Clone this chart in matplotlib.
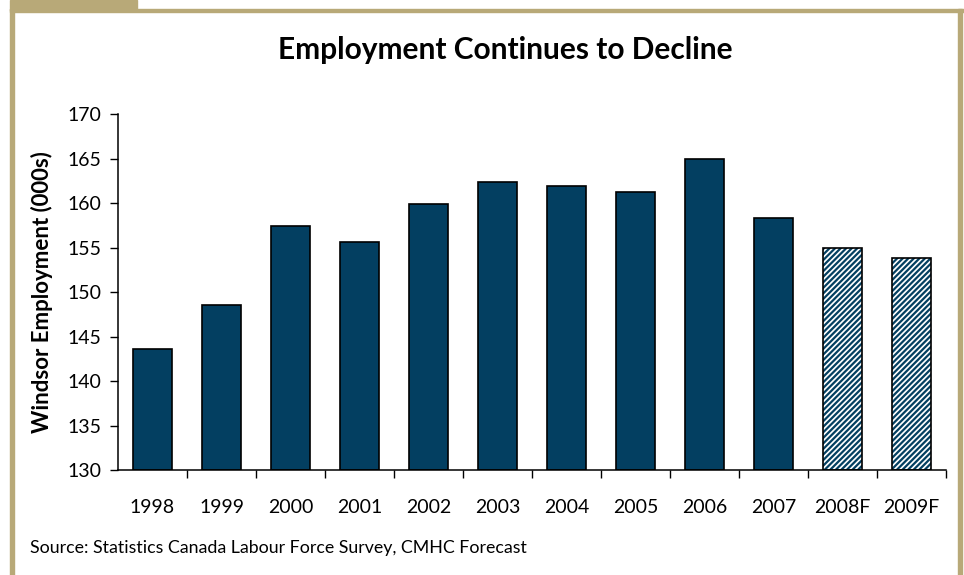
import matplotlib.pyplot as plt
from matplotlib.patches import Rectangle

years = ['1998', '1999', '2000', '2001', '2002', '2003', '2004',
         '2005', '2006', '2007', '2008F', '2009F']
employment = [143.6, 148.6, 157.4, 155.7, 159.9, 162.4, 161.9,
              161.3, 165.0, 158.4, 155.0, 153.9]
forecast = [False] * 10 + [True, True]

navy = '#033F61'
tan = '#B8A978'
W, H = 964, 575

plt.rcParams['font.family'] = ['Lato', 'DejaVu Sans']
plt.rcParams['hatch.linewidth'] = 1.6

fig = plt.figure(figsize=(W / 100, H / 100), dpi=100)

# khaki frame round the chart
def px_rect(x0, y0, x1, y1):
    fig.patches.append(Rectangle((x0 / W, 1 - y1 / H), (x1 - x0) / W, (y1 - y0) / H,
                                 transform=fig.transFigure, color=tan, zorder=0))

px_rect(10, 0, 137, 10)
px_rect(10, 9, 964, 12)
px_rect(10, 9, 14, 575)
px_rect(958, 9, 962, 575)

ax = fig.add_axes([118 / W, 1 - 470 / H, (946 - 118) / W, (470 - 114.5) / H])

x = range(len(years))
for i, (v, f) in enumerate(zip(employment, forecast)):
    if f:
        ax.bar(i, v - 130, bottom=130, width=0.56, color='white', edgecolor=navy,
               hatch='//////', linewidth=0, zorder=2)
        ax.bar(i, v - 130, bottom=130, width=0.56, fill=False, edgecolor='black',
               linewidth=1.2, zorder=3)
    else:
        ax.bar(i, v - 130, bottom=130, width=0.56, color=navy, edgecolor='black',
               linewidth=1.2, zorder=2)

ax.set_ylim(130, 170)
ax.set_yticks(range(130, 171, 5))
ax.set_xlim(-0.5, len(years) - 0.5)
ax.set_xticks(list(x))
ax.set_xticklabels(years)
ax.set_xticks([i - 0.5 for i in range(1, len(years) + 1)], minor=True)
ax.tick_params(axis='x', which='major', length=0, pad=21, labelsize=14)
ax.tick_params(axis='x', which='minor', length=6, width=1)
ax.tick_params(axis='y', length=6, width=1, pad=6, labelsize=14)

for s in ['top', 'right']:
    ax.spines[s].set_visible(False)
for s in ['left', 'bottom']:
    ax.spines[s].set_linewidth(1.1)

ax.set_ylabel('Windsor Employment (000s)', fontsize=16, fontweight='bold', labelpad=10)

fig.text(505 / W, 1 - 50 / H, 'Employment Continues to Decline', ha='center', va='center',
         fontsize=21.5, fontweight='bold')
fig.text(30 / W, 1 - 548 / H, 'Source: Statistics Canada Labour Force Survey, CMHC Forecast',
         ha='left', va='center', fontsize=12.8)

fig.savefig('out.png', dpi=100)
